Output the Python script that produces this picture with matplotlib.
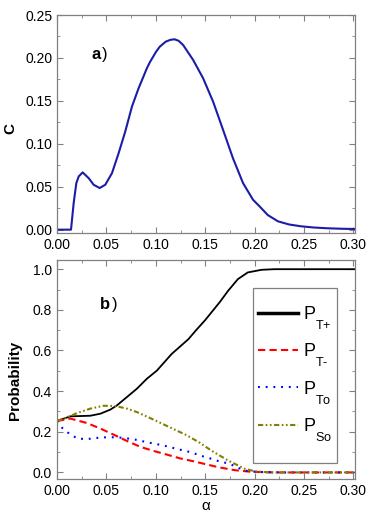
import matplotlib
matplotlib.use('Agg')
import matplotlib.pyplot as plt
from matplotlib import _mathtext
from matplotlib.patches import Rectangle
from matplotlib.ticker import MultipleLocator, FormatStrFormatter

plt.rcParams['font.family'] = ['Liberation Sans', 'DejaVu Sans']
plt.rcParams['mathtext.fontset'] = 'custom'
plt.rcParams['mathtext.rm'] = 'Liberation Sans'
# Origin-style legends drop the subscript further than mathtext does
_mathtext.FontConstantsBase.subdrop = 1.4
_mathtext.FontConstantsBase.sub1 = 1.0

# panel a) concurrence C vs alpha
alpha_c = [0.000, 0.0141, 0.0168, 0.0195, 0.0219, 0.0259, 0.032, 0.037, 0.0431,
           0.0488, 0.0556, 0.0623, 0.069, 0.0758, 0.0825, 0.0909, 0.0939, 0.1003,
           0.104, 0.1100, 0.1150, 0.1190, 0.1230, 0.1276, 0.1377, 0.1478, 0.1579,
           0.168, 0.178, 0.1882, 0.1983, 0.205, 0.2133, 0.2236, 0.235, 0.2471,
           0.260, 0.274, 0.290, 0.301]
conc = [0.000, 0.000, 0.031, 0.0543, 0.062, 0.0667, 0.060, 0.0523, 0.0485,
        0.0523, 0.0659, 0.0891, 0.1143, 0.1434, 0.1647, 0.188, 0.195, 0.2074,
        0.2132, 0.2190, 0.2212, 0.2217, 0.2200, 0.2151, 0.1977, 0.1764, 0.1492,
        0.1163, 0.0833, 0.0543, 0.0349, 0.0271, 0.017, 0.0097, 0.006, 0.0039,
        0.0025, 0.0016, 0.001, 0.0008]

# panel b) probabilities vs alpha
alpha_tp = [0.000, 0.0135, 0.0337, 0.0438, 0.0539, 0.0606, 0.0707, 0.0808, 0.0909,
            0.101, 0.116, 0.133, 0.140, 0.150, 0.156, 0.165, 0.173, 0.183, 0.193,
            0.207, 0.220, 0.240, 0.301]
p_tplus = [0.253, 0.276, 0.279, 0.289, 0.309, 0.330, 0.371, 0.412, 0.461,
           0.501, 0.583, 0.656, 0.696, 0.750, 0.786, 0.840, 0.893, 0.951, 0.984,
           0.997, 1.000, 1.000, 1.000]

alpha_tm = [0.000, 0.0135, 0.0303, 0.0438, 0.0572, 0.0707, 0.0842, 0.0976, 0.111,
            0.1246, 0.138, 0.150, 0.163, 0.180, 0.197, 0.220, 0.301]
p_tminus = [0.253, 0.265, 0.243, 0.216, 0.186, 0.155, 0.126, 0.106, 0.088,
            0.069, 0.055, 0.041, 0.026, 0.011, 0.003, 0.000, 0.000]

alpha_to = [0.000, 0.005, 0.0135, 0.0209, 0.0286, 0.0364, 0.0438, 0.0522, 0.0599,
            0.0673, 0.0747, 0.0832, 0.0909, 0.0983, 0.106, 0.1138, 0.1219, 0.1296,
            0.1374, 0.1448, 0.153, 0.161, 0.175, 0.183, 0.193, 0.207, 0.230, 0.301]
p_to = [0.253, 0.220, 0.186, 0.167, 0.164, 0.167, 0.172, 0.173, 0.173,
        0.170, 0.165, 0.158, 0.148, 0.142, 0.134, 0.126, 0.114, 0.107,
        0.096, 0.083, 0.072, 0.059, 0.042, 0.023, 0.006, 0.002, 0.000, 0.000]

alpha_so = [0.000, 0.0135, 0.0202, 0.0337, 0.047, 0.0589, 0.0707, 0.0808, 0.0976,
            0.1145, 0.1313, 0.1448, 0.156, 0.173, 0.190, 0.200, 0.215, 0.301]
p_so = [0.253, 0.278, 0.292, 0.314, 0.328, 0.327, 0.314, 0.297, 0.260,
        0.221, 0.183, 0.145, 0.108, 0.059, 0.018, 0.006, 0.000, 0.000]

labels = [r'P$_\text{T+}$', r'P$_\text{T-}$', r'P$_\text{To}$', r'P$_\text{So}$']

fig = plt.figure(figsize=(3.78, 5.18), dpi=100)
ax1 = fig.add_axes([0.151, 0.550, 0.788, 0.421])
ax2 = fig.add_axes([0.151, 0.075, 0.788, 0.423])

spine_col = '#808080'
for ax in (ax1, ax2):
    for s in ax.spines.values():
        s.set_color(spine_col)
        s.set_linewidth(0.9)
    ax.tick_params(which='both', direction='in', top=True, right=True,
                   color=spine_col, labelsize=10, pad=3.5)
    ax.tick_params(which='major', length=4)
    ax.tick_params(which='minor', length=2)
    ax.set_xlim(0, 0.3015)
    ax.xaxis.set_major_locator(MultipleLocator(0.05))
    ax.xaxis.set_minor_locator(MultipleLocator(0.025))
    ax.xaxis.set_major_formatter(FormatStrFormatter('%.2f'))

# top panel
ax1.plot(alpha_c, conc, color='#1c1ca8', lw=1.5)
ax1.set_ylim(-0.004, 0.25)
ax1.yaxis.set_major_locator(MultipleLocator(0.05))
ax1.yaxis.set_minor_locator(MultipleLocator(0.025))
ax1.yaxis.set_major_formatter(FormatStrFormatter('%.2f'))
ax1.set_ylabel('C', fontsize=11, fontweight='bold')
ax1.yaxis.set_label_coords(-0.134, 0.478)
ax1.text(0.116, 0.80, 'a', transform=ax1.transAxes, fontsize=12, fontweight='bold')
ax1.text(0.152, 0.80, ')', transform=ax1.transAxes, fontsize=12)

# bottom panel
l1, = ax2.plot(alpha_tp, p_tplus, color='black', lw=1.3)
l2, = ax2.plot(alpha_tm, p_tminus, color='#ff0000', lw=1.5, dashes=(3.5, 2))
l3, = ax2.plot(alpha_to, p_to, color='#0000ff', lw=1.5, dashes=(0.9, 2.8))
l4, = ax2.plot(alpha_so, p_so, color='#808000', lw=1.5,
               dashes=(2.5, 1.2, 0.8, 1.2, 0.8, 1.2))
ax2.set_ylim(-0.033, 1.045)
ax2.yaxis.set_major_locator(MultipleLocator(0.2))
ax2.yaxis.set_minor_locator(MultipleLocator(0.1))
ax2.yaxis.set_major_formatter(FormatStrFormatter('%.1f'))
ax2.set_ylabel('Probability', fontsize=11, fontweight='bold')
ax2.yaxis.set_label_coords(-0.117, 0.452)
ax2.set_xlabel('α', fontsize=11, labelpad=1)
ax2.text(0.144, 0.775, 'b', transform=ax2.transAxes, fontsize=12, fontweight='bold')
ax2.text(0.185, 0.775, ')', transform=ax2.transAxes, fontsize=12)

# legend box (Origin draws a plain rectangle with generous top/bottom margins)
ax2.add_patch(Rectangle((0.658, 0.073), 0.282, 0.799, transform=ax2.transAxes,
                        fill=False, ec=spine_col, lw=0.9, zorder=4))
leg = ax2.legend([l1, l2, l3, l4], labels, loc='upper left',
                 bbox_to_anchor=(0.674, 0.799), fontsize=13, frameon=False,
                 handlelength=2.2, handletextpad=0.28, labelspacing=0.57,
                 borderpad=0, borderaxespad=0)
leg.get_lines()[0].set_linewidth(2.5)

fig.savefig('out.png', dpi=100)
